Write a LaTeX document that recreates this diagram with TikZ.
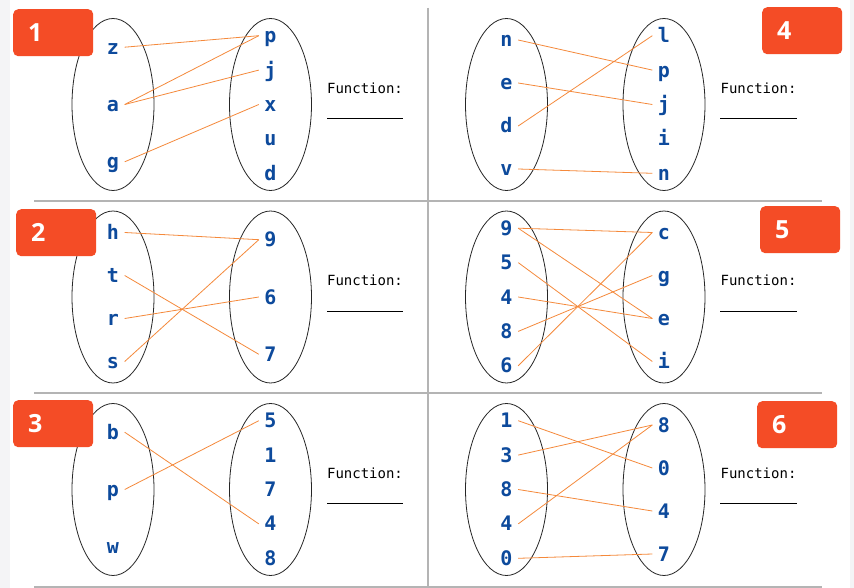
\documentclass[tikz,border=0pt]{standalone}
\usepackage{fontspec}
\usetikzlibrary{shapes.geometric}
\newfontfamily\itemfont{DejaVu Sans Mono}
\newfontfamily\badgefont{Open Sans}
\definecolor{itemblue}{HTML}{0D4A9C}
\definecolor{linkorange}{HTML}{F5893B}
\definecolor{badgered}{HTML}{F44C26}
\definecolor{rulegray}{HTML}{B4B4B4}
\definecolor{edgegray}{HTML}{F4F4F6}
\tikzset{
  item/.style={font={\itemfont\bfseries\fontsize{20}{24}\selectfont}, text=itemblue,
    inner sep=0pt, minimum width=23pt, text height=14pt, text depth=0pt},
  setoval/.style={draw=black!85, ellipse, line width=0.8pt, inner sep=0pt,
    minimum width=82pt, minimum height=172pt},
  link/.style={draw=linkorange, line width=0.8pt},
  fnlabel/.style={font={\itemfont\fontsize{14}{16}\selectfont}, inner sep=0pt},
  blank/.style={draw=black, line width=0.8pt},
  badge/.style={fill=badgered, rounded corners=5pt, anchor=north west,
    minimum height=47pt, text width=50pt, inner xsep=15pt, align=left,
    text=white, font={\badgefont\bfseries\fontsize{25}{28}\selectfont}},
}
\begin{document}
\begin{tikzpicture}[x=1pt,y=-1pt]
\useasboundingbox (0,0) rectangle (854,588);
\fill [white] (0,0) rectangle (854,588);
\fill [edgegray] (0,0) rectangle (10,588);
\fill [edgegray] (850,0) rectangle (854,588);
% rules between the panels
\draw [rulegray, line width=1.5pt] (34,201) -- (822,201);
\draw [rulegray, line width=1.5pt] (34,393) -- (822,393);
\draw [rulegray, line width=1.5pt] (34,587) -- (822,587);
\draw [rulegray, line width=2pt] (428,8) -- (428,588);

% panel 1
\node [setoval] (s1a) at (113,104.5) {};
\node [setoval] (s1b) at (270.5,104.5) {};
\node [item] (z1) at (113,47.2) {z};
\node [item] (a1) at (113,104.5) {a};
\node [item] (g1) at (113,161.8) {g};
\node [item] (p1) at (270.5,35.7) {p};
\node [item] (j1) at (270.5,70.1) {j};
\node [item] (x1) at (270.5,104.5) {x};
\node [item] (u1) at (270.5,138.9) {u};
\node [item] (d1) at (270.5,173.3) {d};
\draw [link] (z1.east) -- (p1.west);
\draw [link] (a1.east) -- (p1.west);
\draw [link] (a1.east) -- (j1.west);
\draw [link] (g1.east) -- (x1.west);
\node [fnlabel] (f1) at (365,88) {Function:};
\draw [blank] (327,118) -- (403,118);

% panel 2
\node [setoval] (s2a) at (113,297) {};
\node [setoval] (s2b) at (270.5,297) {};
\node [item] (h2) at (113,232.5) {h};
\node [item] (t2) at (113,275.5) {t};
\node [item] (r2) at (113,318.5) {r};
\node [item] (s2) at (113,361.5) {s};
\node [item] (n9b2) at (270.5,239.7) {9};
\node [item] (n6b2) at (270.5,297) {6};
\node [item] (n7b2) at (270.5,354.3) {7};
\draw [link] (h2.east) -- (n9b2.west);
\draw [link] (t2.east) -- (n7b2.west);
\draw [link] (r2.east) -- (n6b2.west);
\draw [link] (s2.east) -- (n9b2.west);
\node [fnlabel] (f2) at (365,280) {Function:};
\draw [blank] (327,311) -- (403,311);

% panel 3
\node [setoval] (s3a) at (113,489.5) {};
\node [setoval] (s3b) at (270.5,489.5) {};
\node [item] (b3) at (113,432.2) {b};
\node [item] (p3) at (113,489.5) {p};
\node [item] (w3) at (113,546.8) {w};
\node [item] (n5b3) at (270.5,420.7) {5};
\node [item] (n1b3) at (270.5,455.1) {1};
\node [item] (n7b3) at (270.5,489.5) {7};
\node [item] (n4b3) at (270.5,523.9) {4};
\node [item] (n8b3) at (270.5,558.3) {8};
\draw [link] (b3.east) -- (n4b3.west);
\draw [link] (p3.east) -- (n5b3.west);
\node [fnlabel] (f3) at (365,473) {Function:};
\draw [blank] (327,503) -- (403,503);

% panel 4
\node [setoval] (s4a) at (506.5,104.5) {};
\node [setoval] (s4b) at (664,104.5) {};
\node [item] (n4) at (506.5,40) {n};
\node [item] (e4) at (506.5,83) {e};
\node [item] (d4) at (506.5,126) {d};
\node [item] (v4) at (506.5,169) {v};
\node [item] (l4b) at (664,35.7) {l};
\node [item] (p4b) at (664,70.1) {p};
\node [item] (j4b) at (664,104.5) {j};
\node [item] (i4b) at (664,138.9) {i};
\node [item] (n4b) at (664,173.3) {n};
\draw [link] (n4.east) -- (p4b.west);
\draw [link] (e4.east) -- (j4b.west);
\draw [link] (d4.east) -- (l4b.west);
\draw [link] (v4.east) -- (n4b.west);
\node [fnlabel] (f4) at (758.5,88) {Function:};
\draw [blank] (720,118) -- (797,118);

% panel 5
\node [setoval] (s5a) at (506.5,297) {};
\node [setoval] (s5b) at (664,297) {};
\node [item] (n9a5) at (506.5,228.2) {9};
\node [item] (n5a5) at (506.5,262.6) {5};
\node [item] (n4a5) at (506.5,297) {4};
\node [item] (n8a5) at (506.5,331.4) {8};
\node [item] (n6a5) at (506.5,365.8) {6};
\node [item] (c5b) at (664,232.5) {c};
\node [item] (g5b) at (664,275.5) {g};
\node [item] (e5b) at (664,318.5) {e};
\node [item] (i5b) at (664,361.5) {i};
\draw [link] (n9a5.east) -- (c5b.west);
\draw [link] (n9a5.east) -- (e5b.west);
\draw [link] (n5a5.east) -- (i5b.west);
\draw [link] (n4a5.east) -- (e5b.west);
\draw [link] (n8a5.east) -- (g5b.west);
\draw [link] (n6a5.east) -- (c5b.west);
\node [fnlabel] (f5) at (758.5,280) {Function:};
\draw [blank] (720,311) -- (797,311);

% panel 6
\node [setoval] (s6a) at (506.5,489.5) {};
\node [setoval] (s6b) at (664,489.5) {};
\node [item] (n1a6) at (506.5,420.7) {1};
\node [item] (n3a6) at (506.5,455.1) {3};
\node [item] (n8a6) at (506.5,489.5) {8};
\node [item] (n4a6) at (506.5,523.9) {4};
\node [item] (n0a6) at (506.5,558.3) {0};
\node [item] (n8b6) at (664,425) {8};
\node [item] (n0b6) at (664,468) {0};
\node [item] (n4b6) at (664,511) {4};
\node [item] (n7b6) at (664,554) {7};
\draw [link] (n1a6.east) -- (n0b6.west);
\draw [link] (n3a6.east) -- (n8b6.west);
\draw [link] (n8a6.east) -- (n4b6.west);
\draw [link] (n4a6.east) -- (n8b6.west);
\draw [link] (n0a6.east) -- (n7b6.west);
\node [fnlabel] (f6) at (758.5,473) {Function:};
\draw [blank] (720,503) -- (797,503);

% number badges
\node [badge] (b1) at (13,9) {1};
\node [badge] (b2) at (16,209) {2};
\node [badge] (b3) at (13,400) {3};
\node [badge] (b4) at (762,7) {4};
\node [badge] (b5) at (760,206) {5};
\node [badge] (b6) at (757,401) {6};
\end{tikzpicture}
\end{document}
